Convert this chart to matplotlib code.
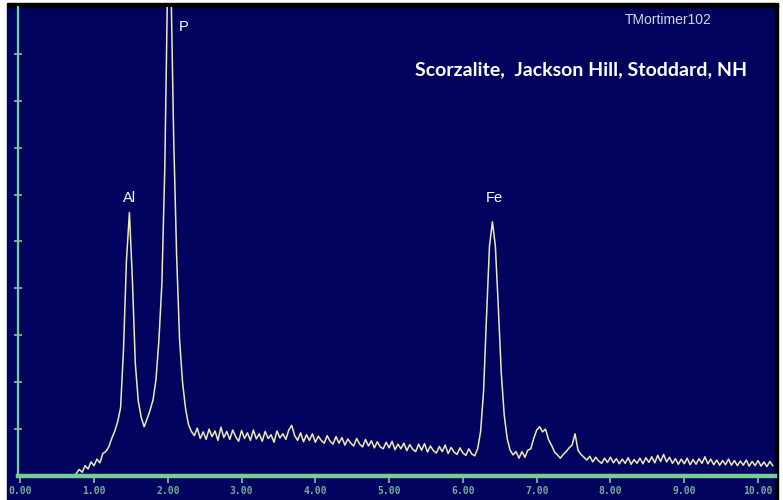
import numpy as np
import matplotlib.pyplot as plt
from matplotlib.patches import Rectangle

# EDS spectrum: channel energies in keV, counts in axis-tick units
energy_start = 0.76
energy_step = 0.04
counts = [
    0.05, 0.14, 0.08, 0.22, 0.15, 0.30, 0.22, 0.36, 0.28, 0.48,   # 0.76
    0.52, 0.62, 0.80, 0.95, 1.15, 1.45, 2.70, 4.60, 5.62, 4.20,   # 1.16  Al
    2.40, 1.60, 1.25, 1.05, 1.22, 1.40, 1.62, 2.05, 2.90, 4.10,   # 1.56
    6.60, 10.8, 10.8, 7.20, 4.70, 2.90, 2.00, 1.45, 1.10, 0.95,   # 1.96  P
    0.86, 1.02, 0.80, 0.94, 0.78, 1.00, 0.84, 0.96, 0.76, 1.04,   # 2.36
    0.82, 0.95, 0.78, 0.98, 0.84, 0.74, 0.97, 0.80, 0.92, 0.76,   # 2.76
    0.98, 0.79, 0.90, 0.74, 0.95, 0.80, 0.88, 0.72, 0.96, 0.81,   # 3.16
    0.90, 0.78, 0.98, 1.08, 0.86, 0.76, 0.92, 0.73, 0.88, 0.76,   # 3.56
    0.90, 0.72, 0.85, 0.76, 0.70, 0.86, 0.74, 0.68, 0.84, 0.70,   # 3.96
    0.82, 0.66, 0.79, 0.70, 0.64, 0.80, 0.68, 0.62, 0.78, 0.64,   # 4.36
    0.75, 0.60, 0.73, 0.62, 0.58, 0.72, 0.60, 0.74, 0.56, 0.68,   # 4.76
    0.58, 0.70, 0.54, 0.67, 0.57, 0.52, 0.68, 0.55, 0.69, 0.51,   # 5.16
    0.64, 0.54, 0.49, 0.63, 0.52, 0.66, 0.48, 0.61, 0.51, 0.46,   # 5.56
    0.60, 0.49, 0.44, 0.58, 0.47, 0.43, 0.58, 0.95, 1.80, 3.40,   # 5.96
    4.90, 5.42, 4.90, 3.60, 2.20, 1.30, 0.80, 0.55, 0.45, 0.52,   # 6.36  Fe
    0.38, 0.52, 0.40, 0.55, 0.58, 0.80, 0.98, 1.05, 0.94, 1.00,   # 6.76
    0.78, 0.66, 0.52, 0.45, 0.38, 0.46, 0.52, 0.60, 0.66, 0.90,   # 7.16
    0.55, 0.46, 0.40, 0.34, 0.42, 0.30, 0.40, 0.32, 0.27, 0.38,   # 7.56
    0.29, 0.40, 0.28, 0.37, 0.26, 0.36, 0.27, 0.39, 0.25, 0.35,   # 7.96
    0.27, 0.38, 0.26, 0.39, 0.29, 0.41, 0.28, 0.44, 0.31, 0.46,   # 8.36
    0.30, 0.40, 0.27, 0.37, 0.25, 0.36, 0.26, 0.38, 0.24, 0.35,   # 8.76
    0.25, 0.37, 0.27, 0.41, 0.26, 0.36, 0.24, 0.34, 0.23, 0.33,   # 9.16
    0.24, 0.36, 0.23, 0.33, 0.22, 0.32, 0.23, 0.34, 0.21, 0.31,   # 9.56
    0.22, 0.33, 0.21, 0.30, 0.20, 0.31, 0.22,                     # 9.96
]
energy = energy_start + energy_step * np.arange(len(counts))

peak_labels = ["Al", "P", "Fe"]
peak_x = [1.48, 2.22, 6.42]
peak_y = [5.93, 9.57, 5.93]

x_ticks = list(range(0, 11))
x_tick_labels = [f"{v:.2f}" for v in x_ticks]
y_ticks = list(range(1, 10))

title = "Scorzalite,  Jackson Hill, Stoddard, NH"
credit = "TMortimer102"

navy = "#01035f"
green = "#79cc98"
label_green = "#6fae9c"
trace = "#eeeab4"

W, H = 783, 500
fig = plt.figure(figsize=(W / 100, H / 100), dpi=100, facecolor="white")

# navy panel with black frame on top and right
fig.patches.append(Rectangle((7 / W, 0), (775 - 7) / W, (H - 7) / H,
                             transform=fig.transFigure, color=navy, zorder=-10))
fig.patches.append(Rectangle((7 / W, (H - 7) / H), 771 / W, 4 / H,
                             transform=fig.transFigure, color="black", zorder=-10))
fig.patches.append(Rectangle((775 / W, 0), 3 / W, (H - 4) / H,
                             transform=fig.transFigure, color="black", zorder=-10))

ax = fig.add_axes([18 / W, (H - 476) / H, (775 - 18) / W, (476 - 7) / H])
ax.set_zorder(5)
ax.set_facecolor("none")
ax.set_xlim(-0.03, 10.23)
ax.set_ylim(0, 10)

ax.plot(energy, counts, color=trace, lw=1.1)

for s in ["top", "right"]:
    ax.spines[s].set_visible(False)
ax.spines["left"].set_color(green)
ax.spines["left"].set_linewidth(1.6)
ax.spines["bottom"].set_color(green)
ax.spines["bottom"].set_linewidth(3.2)
ax.axhline(0, color="#2f7a52", lw=0.9, clip_on=False)

ax.set_xticks(x_ticks)
ax.set_xticklabels(x_tick_labels, fontfamily="DejaVu Sans Mono", fontweight="bold")
ax.tick_params(axis="x", direction="out", length=5, width=1.2, color=green,
               pad=2, labelsize=7, labelcolor=label_green)
ax.set_yticks(y_ticks)
ax.set_yticklabels([])
ax.tick_params(axis="y", direction="inout", length=6, width=1.2, color=green)

for lab, x, y in zip(peak_labels, peak_x, peak_y):
    ax.text(x, y, lab, color="white", fontsize=10.5, family="Liberation Sans",
            ha="center", va="center")

fig.text(668 / W, 1 - 20 / H, credit, color="#d4d4e4", fontsize=10,
         family=["Liberation Sans Narrow", "Liberation Sans"], ha="center", va="center")
fig.text(581 / W, 1 - 70 / H, title, color="white", fontsize=14,
         family="Lato", fontweight="bold", ha="center", va="center")

fig.savefig("out.png", dpi=100, facecolor="white")
